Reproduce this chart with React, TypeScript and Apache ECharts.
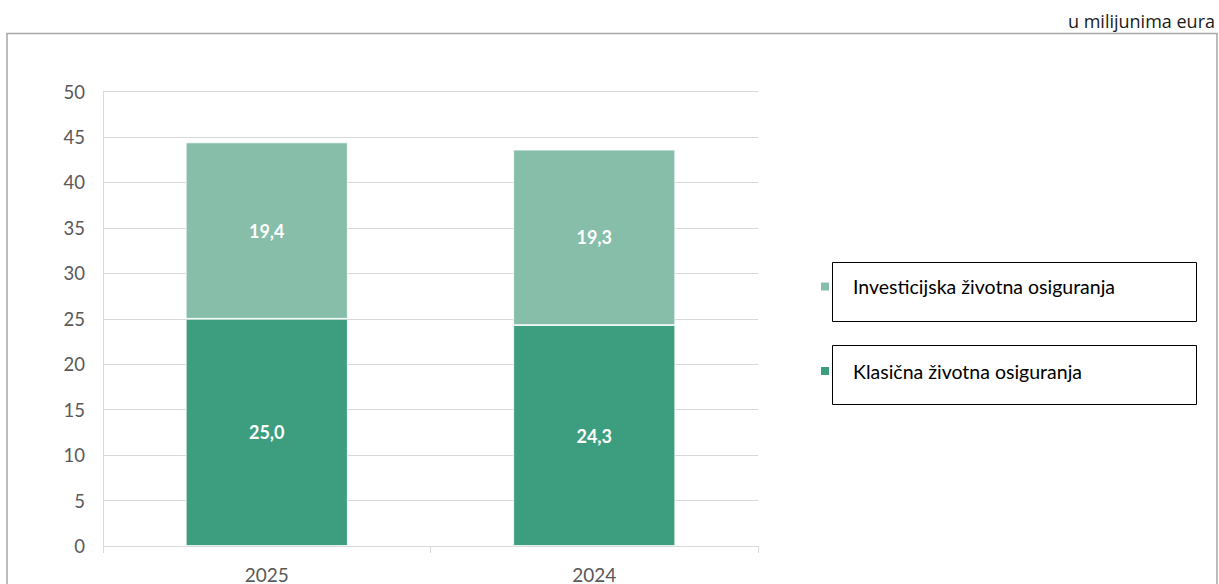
import React, { useEffect, useRef } from "react";
import * as echarts from "echarts";

const categories = ["2025", "2024"];
const klasicna = [25.0, 24.3];
const investicijska = [19.4, 19.3];
const seriesNames = ["Investicijska životna osiguranja", "Klasična životna osiguranja"];
const unitLabel = "u milijunima eura";
const yTicks = { min: 0, max: 50, interval: 5 };

const fmt = (v: number) => v.toFixed(1).replace(".", ",");

export default function App() {
  const ref = useRef<HTMLDivElement>(null);
  useEffect(() => {
    if (!ref.current) return;
    const chart = echarts.init(ref.current, undefined, { renderer: "svg" });
    const labelStyle = {
      show: true,
      position: "inside",
      color: "#ffffff",
      fontFamily: "Lato",
      fontWeight: "bold",
      fontSize: 18,
      formatter: (p: any) => fmt(p.value),
    };
    chart.setOption({
      animation: false,
      backgroundColor: "#ffffff",
      grid: { left: 103, right: 461, top: 91.5, bottom: 38, containLabel: false },
      xAxis: {
        type: "category",
        data: categories,
        boundaryGap: true,
        axisLine: { lineStyle: { color: "#d9d9d9", width: 1 } },
        axisTick: { show: true, length: 7, lineStyle: { color: "#d9d9d9" } },
        axisLabel: { color: "#595959", fontFamily: "Lato", fontSize: 19, margin: 19 },
      },
      yAxis: {
        type: "value",
        min: yTicks.min,
        max: yTicks.max,
        interval: yTicks.interval,
        axisLine: { show: true, lineStyle: { color: "#d9d9d9", width: 1 } },
        axisTick: { show: false },
        splitLine: { lineStyle: { color: "#d9d9d9", width: 1 } },
        axisLabel: { color: "#595959", fontFamily: "Lato", fontSize: 18.5, margin: 18 },
      },
      legend: {
        orient: "vertical",
        left: 819,
        top: 276.5,
        padding: 0,
        itemWidth: 10,
        itemHeight: 10,
        itemGap: 64.5,
        icon: "rect",
        data: [seriesNames[0], seriesNames[1]],
        textStyle: {
          color: "#000000",
          fontFamily: "Lato",
          fontSize: 19.5,
          lineHeight: 20,
          padding: [0, 0, 0, 18],
        },
        selectedMode: false,
      },
      graphic: [
        {
          type: "rect",
          shape: { x: 832.5, y: 262.5, width: 364, height: 59 },
          style: { fill: "none", stroke: "#000000", lineWidth: 1 },
          z: 1,
        },
        {
          type: "rect",
          shape: { x: 832.5, y: 345.5, width: 364, height: 59 },
          style: { fill: "none", stroke: "#000000", lineWidth: 1 },
          z: 1,
        },
        {
          type: "polyline",
          shape: { points: [[7, 600], [7, 33.5], [1217, 33.5], [1217, 600]] },
          style: { fill: "none", stroke: "#a6a6a6", lineWidth: 1.5 },
        },
        {
          type: "text",
          right: 4,
          top: 12,
          style: {
            text: unitLabel,
            fill: "#1a1a1a",
            font: "18px 'Open Sans'",
          },
        },
      ],
      series: [
        {
          name: seriesNames[1],
          type: "bar",
          stack: "total",
          data: klasicna,
          barWidth: 162,
          itemStyle: { color: "#3c9e7e", borderColor: "#ffffff", borderWidth: 0.8 },
          label: labelStyle,
        },
        {
          name: seriesNames[0],
          type: "bar",
          stack: "total",
          data: investicijska,
          barWidth: 162,
          itemStyle: { color: "#86beaa", borderColor: "#ffffff", borderWidth: 0.8 },
          label: labelStyle,
        },
      ],
    });
    return () => chart.dispose();
  }, []);
  return (
    <div
      ref={ref}
      style={{ position: "fixed", left: 0, top: 0, width: 1219, height: 584, background: "#fff" }}
    />
  );
}
